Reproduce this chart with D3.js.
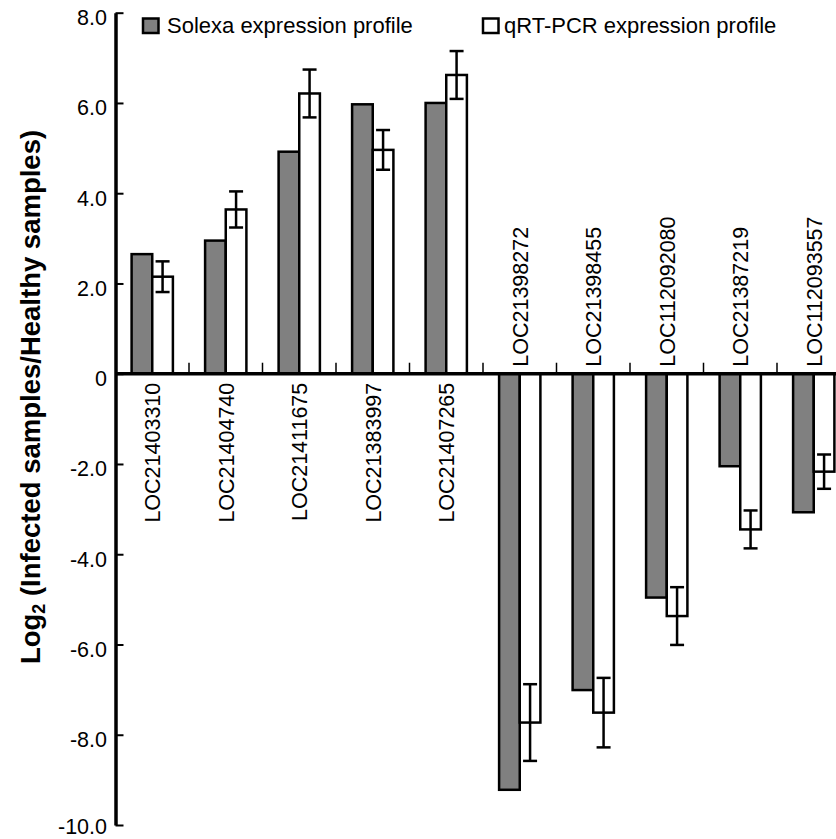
<!DOCTYPE html>
<html>
<head>
<meta charset="utf-8">
<script src="https://cdn.jsdelivr.net/npm/d3@7"></script>
<style>
  body { margin: 0; background: #fff; }
  svg  { display: block; font-family: Arial, "Liberation Sans", sans-serif; }
</style>
</head>
<body>
<svg id="chart" width="836" height="839"></svg>
<script>
const genes = [
  "LOC21403310", "LOC21404740", "LOC21411675", "LOC21383997", "LOC21407265",
  "LOC21398272", "LOC21398455", "LOC112092080", "LOC21387219", "LOC112093557"
];
const solexa  = [2.65, 2.95, 4.92, 5.97, 6.00, -9.22, -7.01, -4.96, -2.05, -3.07];
const qpcr    = [2.15, 3.64, 6.21, 4.96, 6.62, -7.73, -7.51, -5.37, -3.45, -2.17];
const qpcrErr = [0.34, 0.40, 0.53, 0.44, 0.53, 0.85, 0.77, 0.64, 0.42, 0.38];
const seriesNames = ["Solexa expression profile", "qRT-PCR expression profile"];
const yTicks = [8, 6, 4, 2, 0, -2, -4, -6, -8, -10];

const gray = "#808080";
const fills = [gray, "#fff"];

const svg = d3.select("#chart");

const axisX = 115.5;
const step  = 73.5;

const x = d3.scaleBand()
  .domain(genes)
  .range([axisX, axisX + step * genes.length])
  .padding(0);

const x1 = d3.scaleBand()
  .domain([0, 1])
  .range([0, x.bandwidth()])
  .paddingOuter(0.78)
  .paddingInner(0);

const y = d3.scaleLinear()
  .domain([-10, 8])
  .range([825, 12.7]);

const y0 = y(0);

// y axis
const yAxis = d3.axisLeft(y)
  .tickValues(yTicks)
  .tickSizeInner(-8)
  .tickSizeOuter(0)
  .tickPadding(8.5)
  .tickFormat(d => d === 0 ? "0" : d.toFixed(1));

const gy = svg.append("g")
  .attr("transform", `translate(${axisX},0)`)
  .call(yAxis);
gy.select(".domain").attr("stroke", "#000").attr("stroke-width", 3.5);
gy.selectAll(".tick line").attr("stroke", "#000").attr("stroke-width", 2);
gy.selectAll(".tick text")
  .attr("font-size", 21.5)
  .attr("font-family", "Arial, 'Liberation Sans', sans-serif")
  .attr("fill", "#000")
  .attr("dy", d => d === -10 ? "0.38em" : "0.55em");

// y title
const title = svg.append("text")
  .attr("transform", `translate(40,397) rotate(-90)`)
  .attr("text-anchor", "middle")
  .attr("font-size", 27.5)
  .attr("font-weight", "bold")
  .attr("fill", "#000");
title.append("tspan").text("Log");
title.append("tspan").attr("font-size", 18).attr("dy", 5).text("2");
title.append("tspan").attr("dy", -5).text(" (Infected samples/Healthy samples)");

// bars
const rows = genes.map((g, i) => ({gene: g, values: [solexa[i], qpcr[i]], err: qpcrErr[i]}));

const groups = svg.append("g").selectAll("g")
  .data(rows)
  .join("g")
  .attr("transform", d => `translate(${x(d.gene)},0)`);

groups.selectAll("rect")
  .data(d => d.values.map((v, k) => ({k, v})))
  .join("rect")
  .attr("x", d => x1(d.k))
  .attr("width", x1.bandwidth())
  .attr("y", d => Math.min(y(d.v), y0))
  .attr("height", d => Math.abs(y(d.v) - y0))
  .attr("fill", d => fills[d.k])
  .attr("stroke", "#000")
  .attr("stroke-width", 2.5);

// error bars on qRT-PCR
const capW = 14;
const eb = groups.append("g")
  .attr("stroke", "#000")
  .attr("stroke-width", 2.5)
  .attr("transform", d => `translate(${x1(1) + x1.bandwidth() / 2},0)`);
eb.append("line")
  .attr("y1", d => y(d.values[1] + d.err))
  .attr("y2", d => y(d.values[1] - d.err));
eb.append("line")
  .attr("x1", -capW / 2).attr("x2", capW / 2)
  .attr("y1", d => y(d.values[1] + d.err))
  .attr("y2", d => y(d.values[1] + d.err));
eb.append("line")
  .attr("x1", -capW / 2).attr("x2", capW / 2)
  .attr("y1", d => y(d.values[1] - d.err))
  .attr("y2", d => y(d.values[1] - d.err));

// zero line and category ticks
svg.append("line")
  .attr("x1", axisX).attr("x2", 836)
  .attr("y1", y0).attr("y2", y0)
  .attr("stroke", "#000").attr("stroke-width", 3.5);

svg.append("g").selectAll("line")
  .data(genes)
  .join("line")
  .attr("x1", d => x(d) + step).attr("x2", d => x(d) + step)
  .attr("y1", y0).attr("y2", y0 - 11)
  .attr("stroke", "#000").attr("stroke-width", 1.5);

// category labels
svg.append("g").selectAll("text")
  .data(rows)
  .join("text")
  .attr("transform", d => {
    const cx = x(d.gene) + x.bandwidth() / 2;
    const ty = d.values[0] >= 0 ? y0 + 9 : y0 - 7;
    return `translate(${cx},${ty}) rotate(-90)`;
  })
  .attr("text-anchor", d => d.values[0] >= 0 ? "end" : "start")
  .attr("dy", "0.36em")
  .attr("font-size", 21.5)
  .attr("fill", "#000")
  .text(d => d.gene);

// legend
const legendPos = [[143, 167], [483, 504]];
const legend = svg.append("g").selectAll("g")
  .data(seriesNames)
  .join("g");
legend.append("rect")
  .attr("x", (d, i) => legendPos[i][0])
  .attr("y", 18.5)
  .attr("width", 15.5).attr("height", 14.5)
  .attr("fill", (d, i) => fills[i])
  .attr("stroke", "#000").attr("stroke-width", 2.5);
legend.append("text")
  .attr("x", (d, i) => legendPos[i][1])
  .attr("y", 32.5)
  .attr("font-size", 22)
  .attr("fill", "#000")
  .text(d => d);
</script>
</body>
</html>
